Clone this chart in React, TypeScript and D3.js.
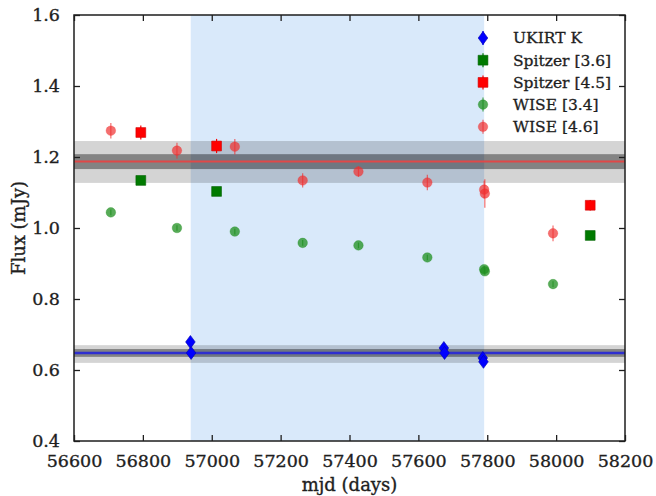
import React, { useEffect, useRef } from "react";
import * as d3 from "d3";

const width = 656;
const height = 496;
const margin = { top: 15, right: 31, bottom: 55, left: 74 };

// UKIRT K
const ukirtMjd = [56938, 56940, 57674, 57676, 57787, 57789];
const ukirtFlux = [0.679, 0.648, 0.662, 0.648, 0.634, 0.623];
const ukirtErr = [0.006, 0.006, 0.006, 0.006, 0.006, 0.006];

// Spitzer
const spitzerMjd = [56794, 57014, 58099];
const spitzer36 = [1.134, 1.103, 0.979];
const spitzer36Err = [0.012, 0.012, 0.012];
const spitzer45 = [1.269, 1.231, 1.064];
const spitzer45Err = [0.02, 0.02, 0.015];

// WISE
const wiseMjd = [56707, 56899, 57067, 57264, 57426, 57626, 57791, 57793, 57991];
const wise34 = [1.044, 1.0, 0.99, 0.958, 0.951, 0.917, 0.884, 0.878, 0.842];
const wise34Err = [0.008, 0.008, 0.008, 0.008, 0.008, 0.008, 0.01, 0.01, 0.008];
const wise46 = [1.274, 1.218, 1.229, 1.134, 1.159, 1.128, 1.108, 1.097, 0.985];
const wise46Err = [0.022, 0.022, 0.022, 0.02, 0.015, 0.022, 0.025, 0.04, 0.022];

// mean levels with 1 and 3 sigma bands
const redMean = 1.187;
const redInner = [1.166, 1.208];
const redOuter = [1.127, 1.245];
const blueMean = 0.648;
const blueInner = [0.637, 0.659];
const blueOuter = [0.62, 0.67];
const spanMjd = [56939, 57791];

const xTicks = [56600, 56800, 57000, 57200, 57400, 57600, 57800, 58000, 58200];
const yTicks = [0.4, 0.6, 0.8, 1.0, 1.2, 1.4, 1.6];

const legendItems = [
  { label: "UKIRT K", shape: "diamond", color: "#0000ff", opacity: 1 },
  { label: "Spitzer [3.6]", shape: "square", color: "#007a00", opacity: 1 },
  { label: "Spitzer [4.5]", shape: "square", color: "#ff0000", opacity: 1 },
  { label: "WISE [3.4]", shape: "circle", color: "#1f8f1f", opacity: 0.75 },
  { label: "WISE [4.6]", shape: "circle", color: "#f03030", opacity: 0.7 },
];

const font = "'DejaVu Serif', serif";
const ink = "#1e1e1e";

const x = d3
  .scaleLinear()
  .domain([56600, 58200])
  .range([margin.left, width - margin.right]);
const y = d3
  .scaleLinear()
  .domain([0.4, 1.6])
  .range([height - margin.bottom, margin.top]);

const diamond = "M0,-6.5L4.8,0L0,6.5L-4.8,0Z";
const square = d3.symbol(d3.symbolSquare, 96)();

function Marker({ shape, color, opacity }) {
  if (shape === "diamond")
    return <path d={diamond} fill={color} stroke="#0000aa" strokeWidth={0.6} />;
  if (shape === "square")
    return <path d={square} fill={color} stroke={d3.color(color).darker(0.6).toString()} strokeWidth={0.6} />;
  return <circle r={4.8} fill={color} fillOpacity={opacity} stroke={color} strokeOpacity={opacity * 0.7} strokeWidth={0.6} />;
}

function Series({ mjd, flux, err, shape, color, opacity }) {
  return (
    <g>
      {mjd.map((m, i) => (
        <g key={i} transform={`translate(${x(m)},${y(flux[i])})`}>
          <line
            x1={0}
            x2={0}
            y1={y(flux[i] + err[i]) - y(flux[i])}
            y2={y(flux[i] - err[i]) - y(flux[i])}
            stroke={color}
            strokeOpacity={opacity}
            strokeWidth={1.2}
          />
          <Marker shape={shape} color={color} opacity={opacity} />
        </g>
      ))}
    </g>
  );
}

function Band({ range, fill, opacity }) {
  return (
    <rect
      x={x(56600)}
      width={x(58200) - x(56600)}
      y={y(range[1])}
      height={y(range[0]) - y(range[1])}
      fill={fill}
      fillOpacity={opacity}
    />
  );
}

export default function App() {
  const xAxisRef = useRef(null);
  const xTopRef = useRef(null);
  const yAxisRef = useRef(null);
  const yRightRef = useRef(null);

  useEffect(() => {
    d3.select(xAxisRef.current).call(
      d3.axisBottom(x).tickValues(xTicks).tickSizeInner(-6).tickSizeOuter(0).tickPadding(14).tickFormat(d3.format("d"))
    );
    d3.select(xTopRef.current).call(
      d3.axisTop(x).tickValues(xTicks).tickSizeInner(-6).tickSizeOuter(0).tickFormat(() => "")
    );
    d3.select(yAxisRef.current).call(
      d3.axisLeft(y).tickValues(yTicks).tickSizeInner(-6).tickSizeOuter(0).tickPadding(14).tickFormat(d3.format(".1f"))
    );
    d3.select(yRightRef.current).call(
      d3.axisRight(y).tickValues(yTicks).tickSizeInner(-6).tickSizeOuter(0).tickFormat(() => "")
    );
    d3.selectAll(".ax .domain").remove();
    d3.selectAll(".ax line").attr("stroke", ink).attr("stroke-width", 1.3);
    d3.selectAll(".ax text")
      .attr("font-family", font)
      .attr("font-size", 17.5)
      .attr("fill", ink)
      .attr("stroke", ink)
      .attr("stroke-width", 0.35);
  }, []);

  return (
    <svg
      width={width}
      height={height}
      style={{ position: "absolute", left: 0, top: 0, background: "#fff" }}
    >
      <rect
        x={x(spanMjd[0])}
        width={x(spanMjd[1]) - x(spanMjd[0])}
        y={margin.top}
        height={height - margin.bottom - margin.top}
        fill="#d9e9fa"
      />
      <Band range={redOuter} fill="#000" opacity={0.17} />
      <Band range={redInner} fill="#000" opacity={0.38} />
      <Band range={blueOuter} fill="#000" opacity={0.17} />
      <Band range={blueInner} fill="#000" opacity={0.38} />
      <line x1={x(56600)} x2={x(58200)} y1={y(redMean)} y2={y(redMean)} stroke="#e04848" strokeWidth={2} />
      <line x1={x(56600)} x2={x(58200)} y1={y(blueMean)} y2={y(blueMean)} stroke="#2f2fd0" strokeWidth={2.5} />

      <Series mjd={wiseMjd} flux={wise34} err={wise34Err} shape="circle" color="#1f8f1f" opacity={0.75} />
      <Series mjd={wiseMjd} flux={wise46} err={wise46Err} shape="circle" color="#f03030" opacity={0.7} />
      <Series mjd={spitzerMjd} flux={spitzer36} err={spitzer36Err} shape="square" color="#007a00" opacity={1} />
      <Series mjd={spitzerMjd} flux={spitzer45} err={spitzer45Err} shape="square" color="#ff0000" opacity={1} />
      <Series mjd={ukirtMjd} flux={ukirtFlux} err={ukirtErr} shape="diamond" color="#0000ff" opacity={1} />

      <rect
        x={margin.left}
        y={margin.top}
        width={width - margin.left - margin.right}
        height={height - margin.top - margin.bottom}
        fill="none"
        stroke={ink}
        strokeWidth={1.5}
      />
      <g className="ax" ref={xAxisRef} transform={`translate(0,${height - margin.bottom})`} />
      <g className="ax" ref={xTopRef} transform={`translate(0,${margin.top})`} />
      <g className="ax" ref={yAxisRef} transform={`translate(${margin.left},0)`} />
      <g className="ax" ref={yRightRef} transform={`translate(${width - margin.right},0)`} />

      <g fontFamily={font} fontSize={15.5} fill={ink} stroke={ink} strokeWidth={0.3}>
        {legendItems.map((d, i) => (
          <g key={d.label} transform={`translate(483,${38 + i * 22.2})`}>
            <line x1={0} x2={0} y1={-7} y2={7} stroke={d.color} strokeOpacity={d.opacity} strokeWidth={1.2} />
            <Marker shape={d.shape} color={d.color} opacity={d.opacity} />
            <text x={30} dy="0.35em">{d.label}</text>
          </g>
        ))}
      </g>

      <text
        x={(margin.left + width - margin.right) / 2}
        y={491}
        textAnchor="middle"
        fontFamily={font}
        fontSize={18}
        fill={ink}
        stroke={ink}
        strokeWidth={0.35}
      >
        mjd (days)
      </text>
      <text
        transform={`translate(25,${(margin.top + height - margin.bottom) / 2}) rotate(-90)`}
        textAnchor="middle"
        fontFamily={font}
        fontSize={18}
        fill={ink}
        stroke={ink}
        strokeWidth={0.35}
      >
        Flux (mJy)
      </text>
    </svg>
  );
}
